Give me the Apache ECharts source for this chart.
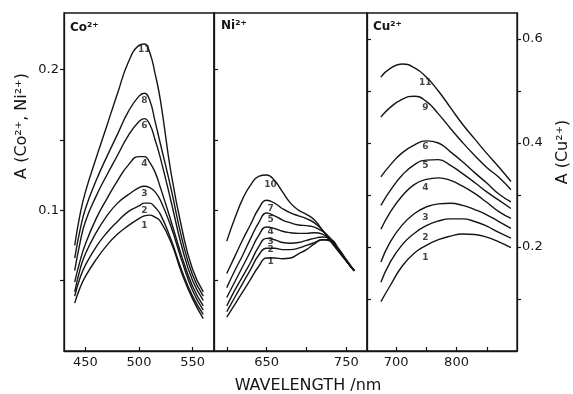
<!DOCTYPE html>
<html><head><meta charset="utf-8">
<script src="https://cdn.jsdelivr.net/npm/echarts@6/dist/echarts.min.js"></script>
<style>html,body{margin:0;padding:0;background:#fff}#c{width:573px;height:394px}</style>
</head><body><div id="c"></div>
<script>
// ---- Co2+ panel ----
const coWavelengths = [440,445,450,460,470,480,490,500,505,510,515,520,530,540,550,560];
const coNames = ['11','8','6','4','3','2','1'];
const co11 = [0.075,0.097,0.113,0.137,0.160,0.183,0.205,0.217,0.218,0.212,0.197,0.178,0.126,0.087,0.058,0.042];
const co8  = [0.066,0.086,0.101,0.121,0.138,0.154,0.170,0.181,0.183,0.178,0.163,0.147,0.115,0.080,0.054,0.039];
const co6  = [0.057,0.077,0.092,0.110,0.125,0.139,0.153,0.163,0.165,0.161,0.150,0.137,0.106,0.074,0.050,0.036];
const co4  = [0.049,0.064,0.076,0.094,0.108,0.121,0.132,0.138,0.138,0.134,0.127,0.116,0.092,0.067,0.046,0.032];
const co3  = [0.042,0.058,0.069,0.084,0.096,0.105,0.111,0.116,0.117,0.116,0.113,0.107,0.088,0.064,0.043,0.029];
const co2  = [0.039,0.052,0.061,0.074,0.084,0.092,0.099,0.103,0.105,0.105,0.102,0.097,0.079,0.057,0.039,0.026];
const co1  = [0.034,0.045,0.053,0.065,0.075,0.083,0.089,0.094,0.096,0.0965,0.095,0.092,0.077,0.055,0.037,0.023];
// ---- Ni2+ panel ----
const niWavelengths = [600,610,620,630,640,650,660,670,680,690,700,710,720,730,740,750,760];
const niNames = ['10','7','5','4','3','2','1'];
const ni10 = [0.078,0.094,0.108,0.118,0.124,0.125,0.121,0.113,0.105,0.100,0.097,0.093,0.086,0.078,0.071,0.064,0.057];
const ni7  = [0.055,0.067,0.079,0.090,0.101,0.107,0.105,0.101,0.098,0.096,0.094,0.091,0.086,0.079,0.071,0.064,0.057];
const ni5  = [0.045,0.057,0.068,0.080,0.091,0.098,0.096,0.093,0.091,0.0895,0.089,0.088,0.085,0.080,0.072,0.064,0.057];
const ni4  = [0.038,0.049,0.060,0.071,0.082,0.088,0.087,0.085,0.084,0.0835,0.0835,0.084,0.083,0.079,0.072,0.064,0.057];
const ni3  = [0.032,0.043,0.053,0.063,0.074,0.080,0.079,0.077,0.0765,0.077,0.0785,0.080,0.081,0.079,0.072,0.064,0.057];
const ni2  = [0.028,0.038,0.048,0.058,0.068,0.073,0.073,0.072,0.072,0.073,0.075,0.077,0.079,0.078,0.072,0.064,0.057];
const ni1  = [0.024,0.033,0.042,0.051,0.060,0.066,0.066,0.0655,0.066,0.069,0.072,0.076,0.079,0.079,0.073,0.065,0.057];
// ---- Cu2+ panel ----
const cuWavelengths = [675,690,710,730,750,770,790,810,830,850,870,890];
const cuNames = ['11','9','6','5','4','3','2','1'];
const cu11 = [0.527,0.543,0.552,0.545,0.527,0.500,0.468,0.436,0.408,0.380,0.354,0.326];
const cu9  = [0.450,0.468,0.484,0.490,0.480,0.456,0.428,0.401,0.376,0.353,0.334,0.310];
const cu6  = [0.335,0.357,0.381,0.396,0.404,0.400,0.383,0.364,0.343,0.323,0.302,0.287];
const cu5  = [0.280,0.308,0.338,0.358,0.367,0.368,0.357,0.341,0.324,0.306,0.290,0.274];
const cu4  = [0.234,0.266,0.298,0.320,0.330,0.333,0.328,0.317,0.303,0.286,0.268,0.255];
const cu3  = [0.171,0.209,0.242,0.264,0.277,0.283,0.284,0.280,0.272,0.262,0.249,0.236];
const cu2  = [0.132,0.170,0.204,0.226,0.241,0.250,0.254,0.254,0.249,0.240,0.228,0.217];
const cu1  = [0.095,0.125,0.163,0.188,0.203,0.214,0.221,0.225,0.224,0.219,0.210,0.199];
// ---- ticks ----
const coXTicks = [450,500,550], coXLabels = [450,500,550];
const niXTicks = [600,650,700,750], niXLabels = [650,750];
const cuXTicks = [700,750,800,850], cuXLabels = [700,800];
const aYTicks = [0.05,0.1,0.15,0.2], aYLabels = [0.1,0.2];
const cuYTicks = [0.1,0.2,0.3,0.4,0.5,0.6], cuYLabels = [0.2,0.4,0.6];

const INK = '#151515';
const FONT = 'DejaVu Sans';
const panels = [
  {xs: coWavelengths, names: coNames, ys: [co11,co8,co6,co4,co3,co2,co1], li: 8, dx: 0, dy: [6,7,7,7.5,7.5,7.5,10], ax: 0, ay: 0},
  {xs: niWavelengths, names: niNames, ys: [ni10,ni7,ni5,ni4,ni3,ni2,ni1], li: 5, dx: 4, dy: [10,8,7,5,3,1,4], ax: 1, ay: 1},
  {xs: cuWavelengths, names: cuNames, ys: [cu11,cu9,cu6,cu5,cu4,cu3,cu2,cu1], li: 4, dx: -1, dy: [6,6,6,5.5,8,10.5,12,12.5], ax: 2, ay: 2}
];
const series = [];
panels.forEach(p => {
  p.ys.forEach((vals, k) => {
    series.push({
      type: 'line', name: p.names[k], xAxisIndex: p.ax, yAxisIndex: p.ay,
      data: p.xs.map((x, i) => [x, vals[i]]),
      showSymbol: false, symbol: 'none', smooth: 0.5, silent: true,
      lineStyle: {color: INK, width: 1.4}
    });
  });
  series.push({
    type: 'scatter', xAxisIndex: p.ax, yAxisIndex: p.ay, silent: true,
    symbolSize: 1, itemStyle: {color: 'rgba(0,0,0,0)'},
    data: p.ys.map((vals, k) => ({
      value: [p.xs[p.li], vals[p.li]],
      label: {show: true, position: 'inside', offset: [p.dx, p.dy[k]], formatter: p.names[k],
              fontSize: 9, fontWeight: 'bold', color: INK, fontFamily: FONT}
    }))
  });
});

function xAx(grid, min, max, ticks, labels) {
  return {type: 'value', gridIndex: grid, min, max, position: 'bottom',
    axisLine: {show: true, lineStyle: {color: INK, width: 1.3}},
    axisTick: {show: true, inside: true, length: 4, customValues: ticks, lineStyle: {color: INK, width: 1.2}},
    axisLabel: {show: true, customValues: labels, margin: 5, fontSize: 13, color: INK, fontFamily: FONT},
    splitLine: {show: false}};
}
function yAx(grid, min, max, pos, inside, ticks, labels) {
  return {type: 'value', gridIndex: grid, min, max, position: pos,
    axisLine: {show: true, onZero: false, lineStyle: {color: INK, width: 1.3}},
    axisTick: {show: true, inside, length: 4, customValues: ticks, lineStyle: {color: INK, width: 1.2}},
    axisLabel: {show: labels.length > 0, customValues: labels.length ? labels : undefined, margin: 5, fontSize: 13, color: INK, fontFamily: FONT,
                formatter: v => Number(v).toFixed(1)},
    splitLine: {show: false}};
}

const chart = echarts.init(document.getElementById('c'), null, {renderer: 'canvas'});
chart.setOption({
  backgroundColor: '#fff',
  animation: false,
  grid: [
    {left: 64, top: 13, width: 150, bottom: 43, show: true, borderColor: INK, borderWidth: 1.3, backgroundColor: 'transparent'},
    {left: 214, top: 13, width: 153, bottom: 43, show: true, borderColor: INK, borderWidth: 1.3, backgroundColor: 'transparent'},
    {left: 367, top: 13, width: 150, bottom: 43, show: true, borderColor: INK, borderWidth: 1.3, backgroundColor: 'transparent'}
  ],
  xAxis: [
    xAx(0, 430, 570, coXTicks, coXLabels),
    xAx(1, 584, 776, niXTicks, niXLabels),
    xAx(2, 652, 900, cuXTicks, cuXLabels)
  ],
  yAxis: [
    yAx(0, 0, 0.24, 'left', false, aYTicks, aYLabels),
    yAx(1, 0, 0.24, 'left', true, aYTicks, []),
    yAx(2, 0, 0.65, 'right', false, cuYTicks, cuYLabels),
    yAx(2, 0, 0.65, 'left', true, cuYTicks, [])
  ],
  series,
  graphic: [
    {type: 'text', x: 308, y: 386, style: {text: 'WAVELENGTH /nm', font: '16px "DejaVu Sans"', fill: INK, textAlign: 'center', textVerticalAlign: 'middle'}},
    {type: 'text', x: 22, y: 126, rotation: Math.PI / 2, style: {text: 'A (Co²⁺, Ni²⁺)', font: '16px "DejaVu Sans"', fill: INK, textAlign: 'center', textVerticalAlign: 'middle'}},
    {type: 'text', x: 563, y: 152, rotation: Math.PI / 2, style: {text: 'A (Cu²⁺)', font: '16px "DejaVu Sans"', fill: INK, textAlign: 'center', textVerticalAlign: 'middle'}},
    {type: 'text', x: 70, y: 28, style: {text: 'Co²⁺', font: 'bold 12px "DejaVu Sans"', fill: INK, textAlign: 'left', textVerticalAlign: 'middle'}},
    {type: 'text', x: 221, y: 26, style: {text: 'Ni²⁺', font: 'bold 12px "DejaVu Sans"', fill: INK, textAlign: 'left', textVerticalAlign: 'middle'}},
    {type: 'text', x: 373, y: 27, style: {text: 'Cu²⁺', font: 'bold 12px "DejaVu Sans"', fill: INK, textAlign: 'left', textVerticalAlign: 'middle'}}
  ]
});
</script></body></html>
